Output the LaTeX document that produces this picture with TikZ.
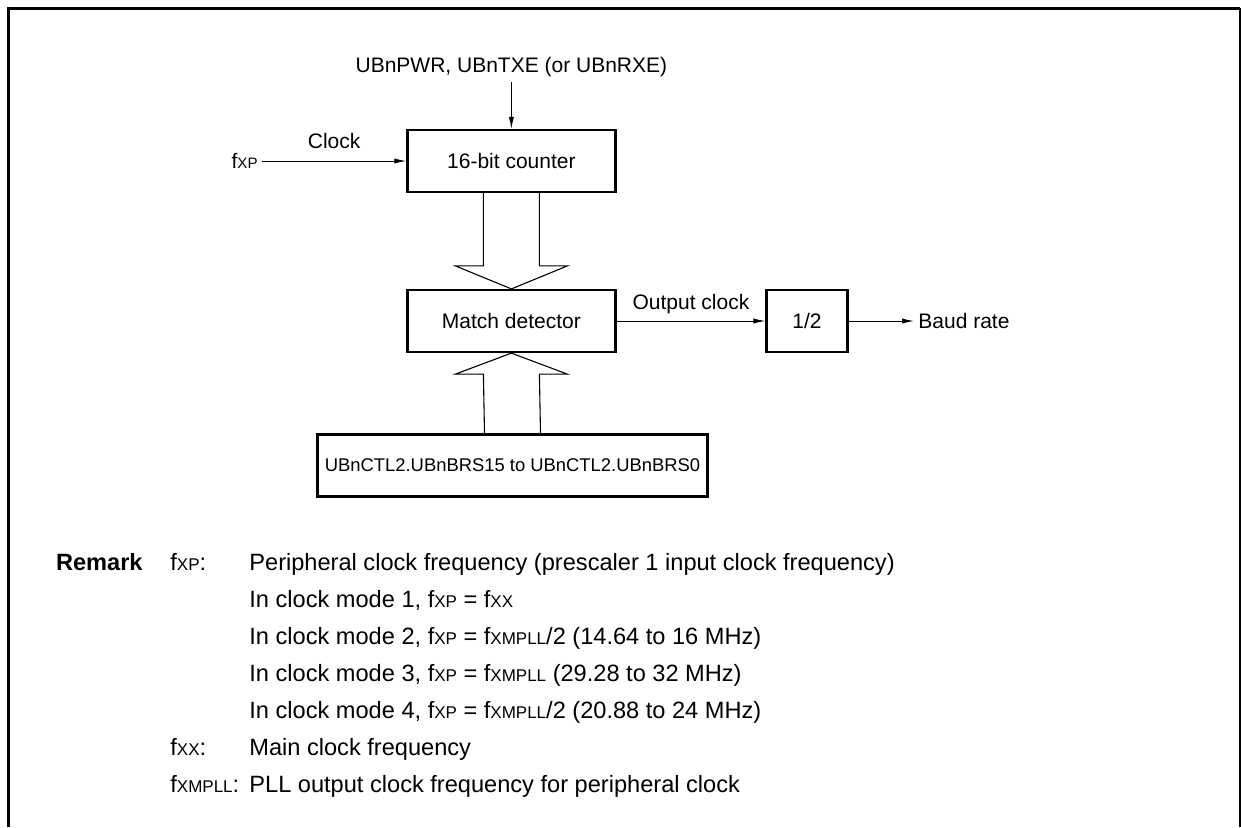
\documentclass[tikz,border=0pt]{standalone}
\usepackage{fontspec}
\setmainfont{Liberation Sans}
\usepackage{graphicx}
\usetikzlibrary{arrows.meta,calc,positioning}

\newcommand{\fsub}[1]{f\scalebox{.72}{#1}}
\newcommand{\diafont}{\fontsize{10.5}{12.6}\selectfont}
\newcommand{\remfont}{\fontsize{11.8}{14}\selectfont}

\tikzset{
  blk/.style={draw,line width=1.1pt,minimum height=31pt,inner sep=0pt},
  sig/.style={->,line width=.5pt},
  bus/.style={line width=.55pt,line join=miter},
  lbl/.style={inner sep=2pt},
  rem/.style={font=\remfont,anchor=base west,inner sep=0pt},
}

\begin{document}
\begin{tikzpicture}[x=.5pt,y=-.5pt,font=\diafont,>={Latex[length=6pt,width=2.6pt]}]
 \useasboundingbox (0,0) rectangle (1241,827);
 % frame
 \draw[line width=1.6pt] (8.3,827)--(8.3,8.3)--(1240,8.3);
 \draw[line width=1pt] (1240,8.3)--(1240,827);
 % blocks
 \node[blk,minimum width=104pt] (cnt) at (511.4,161) {16-bit counter};
 \node[blk,minimum width=104pt] (mdet) at (511.4,321) {Match detector};
 \node[blk,minimum width=40.5pt] (half) at (807,321) {1/2};
 \node[blk,minimum width=195pt,font=\fontsize{9.2}{11}\selectfont]
    (brs) at (512.5,465.5) {UBnCTL2.UBnBRS15 to UBnCTL2.UBnBRS0};
 % signals
 \node[lbl,anchor=base,inner sep=2.5pt] (upin) at (511.4,72)
    {UBnPWR, UBnTXE (or UBnRXE)};
 \node[lbl,anchor=east] (fxp) at (262,161) {\fsub{XP}};
 \node[lbl,anchor=west] (baud) at (914,321) {Baud rate};
 \draw[sig] (upin.south)--(cnt.north);
 \draw[sig] (fxp.east)--(cnt.west) node[midway,above=2.5pt] {Clock};
 \draw[sig] (mdet.east)--(half.west) node[midway,above=0pt] {Output clock};
 \draw[sig] (half.east)--(baud.west);
 % buses
 \draw[bus] ($(cnt.south)+(-28,0)$) -- ($(mdet.north)+(-28,-23)$)
    -- ($(mdet.north)+(-56,-23)$) -- (mdet.north)
    -- ($(mdet.north)+(56,-23)$) -- ($(mdet.north)+(28,-23)$)
    -- ($(cnt.south)+(28,0)$);
 \draw[bus] ($(brs.north)+(-28,0)$) -- ($(mdet.south)+(-28,21)$)
    -- ($(mdet.south)+(-56,21)$) -- (mdet.south)
    -- ($(mdet.south)+(56,21)$) -- ($(mdet.south)+(28,21)$)
    -- ($(brs.north)+(28,0)$);
 % remark
 \node[rem,font=\remfont\bfseries,anchor=base east] (remk) at (143,570) {Remark};
 \node[rem] (kxp) at (170,570) {\fsub{XP}:};
 \node[rem] (dxp) at (249,570)
    {Peripheral clock frequency (prescaler 1 input clock frequency)};
 \foreach \t [count=\i] in {{In clock mode 1, \fsub{XP} = \fsub{XX}},
    {In clock mode 2, \fsub{XP} = \fsub{XMPLL}/2 (14.64 to 16 MHz)},
    {In clock mode 3, \fsub{XP} = \fsub{XMPLL} (29.28 to 32 MHz)},
    {In clock mode 4, \fsub{XP} = \fsub{XMPLL}/2 (20.88 to 24 MHz)}}
    \node[rem] (mode\i) at (249,570+37*\i) {\t};
 \node[rem] (kxx) at (170,755) {\fsub{XX}:};
 \node[rem] (dxx) at (249,755) {Main clock frequency};
 \node[rem] (kpll) at (170,792) {\fsub{XMPLL}:};
 \node[rem] (dpll) at (249,792) {PLL output clock frequency for peripheral clock};
\end{tikzpicture}
\end{document}
